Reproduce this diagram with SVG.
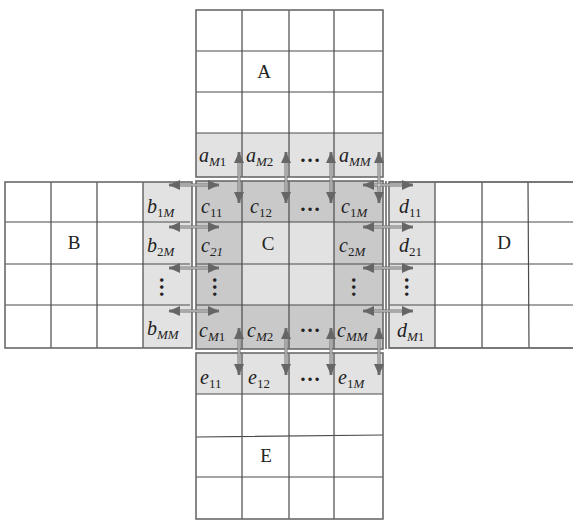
<svg xmlns="http://www.w3.org/2000/svg" width="573" height="522" viewBox="0 0 573 522">
<defs>
<style>
.bg{fill:#ffffff}
.lt{fill:#e2e2e3}
.dk{fill:#c9c9ca}
.grid{stroke:#4a4a4a;stroke-width:1.2;fill:none}
.edge{stroke:#6a6a6a;stroke-width:1.6;fill:none}
.lbl{font-family:"Liberation Serif","Times New Roman",serif;font-size:20px;font-style:italic;fill:#222}
.sub{font-size:13px}
.up{font-style:normal}
.big{font-family:"Liberation Serif","Times New Roman",serif;font-size:19px;fill:#222;text-anchor:middle}
.dots{font-family:"Liberation Serif","Times New Roman",serif;font-size:21px;font-weight:bold;fill:#222;text-anchor:middle}
.shaft{stroke:#727272;stroke-width:3;fill:none}
.core{stroke:#ececec;stroke-width:0.9;fill:none}
</style>
<marker id="ah" viewBox="0 0 11 10" refX="11" refY="5" markerWidth="11" markerHeight="10" markerUnits="userSpaceOnUse" orient="auto-start-reverse">
<path d="M0,0 L11,5 L0,10 z" fill="#666"/>
</marker>
</defs>
<rect class="bg" x="0" y="0" width="573" height="522"/>

<g id="A">
<rect class="lt" x="196" y="133" width="187" height="44"/>
<path class="grid" d="M196,51H383M196,92H383M196,133H383M242,10V177M289,10V177M334,10V177"/>
<rect class="edge" x="196" y="10" width="187" height="167"/>
<text class="big" x="264" y="78">A</text>
<text class="lbl" x="199" y="162">a<tspan class="sub" dy="4">M<tspan class="up">1</tspan></tspan></text>
<text class="lbl" x="246" y="162">a<tspan class="sub" dy="4">M<tspan class="up">2</tspan></tspan></text>
<text class="dots" x="310" y="162">…</text>
<text class="lbl" x="339" y="162">a<tspan class="sub" dy="4">MM</tspan></text>
</g>

<g id="B">
<rect class="lt" x="143" y="182" width="49" height="166"/>
<path class="grid" d="M5,222H190M5,264H190M5,305H190M51,182V348M97,182V348M143,182V348"/>
<rect class="edge" x="5" y="182" width="187" height="166"/>
<text class="big" x="74" y="249">B</text>
<text class="lbl" x="147" y="213">b<tspan class="sub" dy="4"><tspan class="up">1</tspan>M</tspan></text>
<text class="lbl" x="147" y="252">b<tspan class="sub" dy="4"><tspan class="up">2</tspan>M</tspan></text>
<text class="dots" transform="translate(165,287) rotate(90)" x="0" y="5">…</text>
<text class="lbl" x="147" y="335">b<tspan class="sub" dy="4">MM</tspan></text>
</g>

<g id="C">
<rect class="dk" x="196" y="181" width="187" height="168"/>
<rect class="lt" x="242" y="222" width="92" height="83"/>
<path class="grid" d="M196,222H383M196,264H383M196,305H383M242,181V349M289,181V349M334,181V349"/>
<rect class="edge" x="196" y="181" width="187" height="168"/>
<line class="edge" x1="386" y1="181" x2="386" y2="349"/>
<text class="big" x="268" y="250">C</text>
<text class="lbl" x="201" y="213">c<tspan class="sub up" dy="4">11</tspan></text>
<text class="lbl" x="250" y="213">c<tspan class="sub up" dy="4">12</tspan></text>
<text class="dots" x="310" y="211">…</text>
<text class="lbl" x="341" y="213">c<tspan class="sub" dy="4"><tspan class="up">1</tspan>M</tspan></text>
<text class="lbl" x="201" y="252">c<tspan class="sub" dy="4">21</tspan></text>
<text class="lbl" x="339" y="252">c<tspan class="sub" dy="4"><tspan class="up">2</tspan>M</tspan></text>
<text class="dots" transform="translate(218,287) rotate(90)" x="0" y="5">…</text>
<text class="dots" transform="translate(357,287) rotate(90)" x="0" y="5">…</text>
<text class="lbl" x="199" y="337">c<tspan class="sub" dy="4">M<tspan class="up">1</tspan></tspan></text>
<text class="lbl" x="247" y="337">c<tspan class="sub" dy="4">M<tspan class="up">2</tspan></tspan></text>
<text class="dots" x="310" y="332">…</text>
<text class="lbl" x="337" y="337">c<tspan class="sub" dy="4">MM</tspan></text>
</g>

<g id="D">
<rect class="lt" x="389" y="182" width="46" height="166"/>
<path class="grid" d="M389,182H573M389,222H573M389,264H573M389,305H573M389,348H573M435,182V348M482,182V348M528,182L529,348"/>
<path class="edge" d="M573,182H389V348H573"/>
<text class="big" x="504" y="249">D</text>
<text class="lbl" x="399" y="213">d<tspan class="sub up" dy="4">11</tspan></text>
<text class="lbl" x="399" y="252">d<tspan class="sub up" dy="4">21</tspan></text>
<text class="dots" transform="translate(410,287) rotate(90)" x="0" y="5">…</text>
<text class="lbl" x="397" y="337">d<tspan class="sub" dy="4">M<tspan class="up">1</tspan></tspan></text>
</g>

<g id="E">
<rect class="lt" x="196" y="353" width="187" height="41"/>
<path class="grid" d="M196,394H383M196,437L383,435M196,477H383M242,353V519M289,353V519M334,353V519"/>
<rect class="edge" x="196" y="353" width="187" height="166"/>
<text class="big" x="266" y="462">E</text>
<text class="lbl" x="200" y="384">e<tspan class="sub up" dy="4">11</tspan></text>
<text class="lbl" x="248" y="384">e<tspan class="sub up" dy="4">12</tspan></text>
<text class="dots" x="310" y="381">…</text>
<text class="lbl" x="338" y="384">e<tspan class="sub" dy="4"><tspan class="up">1</tspan>M</tspan></text>
</g>

<g id="connectors">
<g class="shaft" marker-start="url(#ah)" marker-end="url(#ah)">
<path d="M239,152V203"/><path d="M286,152V203"/><path d="M331,152V203"/><path d="M379,152V203"/>
<path d="M239,328V375"/><path d="M286,328V375"/><path d="M331,328V375"/><path d="M379,328V375"/>
<path d="M169,185H219"/><path d="M169,227H219"/><path d="M169,268H219"/><path d="M169,311H219"/>
<path d="M363,185H413"/><path d="M363,227H413"/><path d="M363,268H413"/><path d="M363,311H413"/>
</g>
<g class="core">
<path d="M239,163V192"/><path d="M286,163V192"/><path d="M331,163V192"/><path d="M379,163V192"/>
<path d="M239,339V364"/><path d="M286,339V364"/><path d="M331,339V364"/><path d="M379,339V364"/>
<path d="M180,185H208"/><path d="M180,227H208"/><path d="M180,268H208"/><path d="M180,311H208"/>
<path d="M374,185H402"/><path d="M374,227H402"/><path d="M374,268H402"/><path d="M374,311H402"/>
</g>
</g>
</svg>
